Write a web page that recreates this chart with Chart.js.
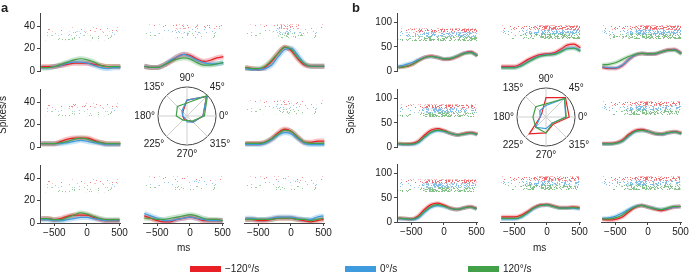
<!DOCTYPE html>
<html>
<head>
<meta charset="utf-8">
<script src="https://cdn.jsdelivr.net/npm/chart.js@4.4.1/dist/chart.umd.min.js"></script>
<style>
  body { margin: 0; background: #fff; }
  #fig { position: relative; width: 690px; height: 276px; overflow: hidden;
         font-family: 'Liberation Sans', Arial, sans-serif; color: #222; }
  #fig canvas { position: absolute; }
  .txt { position: absolute; font-size: 10px; white-space: nowrap; line-height: 1; }
  .panel { position: absolute; font-size: 13px; font-weight: bold; line-height: 1; }
  .ylab { position: absolute; font-size: 10px; transform: rotate(-90deg); transform-origin: center; white-space: nowrap; line-height: 1; }
  .sw { position: absolute; height: 6px; width: 31px; }
</style>
</head>
<body>
<div id="fig"></div>
<script>
// time axis (ms) and ticks
const TIMES = [-700, -600, -500, -400, -300, -200, -100, 0, 100, 200, 300, 400, 500];
const X_TICKS = [-500, 0, 500];
const Y_TICKS_A = [0, 20, 40];
const Y_TICKS_B = [0, 50, 100];
const SPEEDS = ['\u2212120°/s', '0°/s', '120°/s'];
const DIRS = [0, 45, 90, 135, 180, 225, 270, 315];

// panel a, spikes/s per direction: [-120, 0, 120 deg/s]
const a135 = [[4,4,4,5,6,7,7,7,6,5,4,4,4], [3,3,4,5,7,8,8,7,5,3,2,3,3], [3,3,4,6,8,10,11,10,8,5,4,4,4]];
const a90  = [[4,3,3,5,8,12,14,13,10,8,9,11,12], [4,3,3,5,9,12,14,12,9,7,6,6,7], [4,3,3,5,8,10,11,10,7,5,5,6,7]];
const a45  = [[3,2,1,3,8,15,20,17,10,5,4,4,4], [2,1,1,2,5,12,18,19,13,6,4,4,4], [3,2,2,4,9,15,20,18,11,6,4,4,4]];
const a180 = [[3,3,3,5,7,8,8,8,6,4,3,3,3], [3,3,3,3,4,5,6,5,4,3,2,2,2], [3,3,3,4,5,7,8,7,5,4,3,3,3]];
const a0   = [[3,3,3,4,7,12,15,13,8,4,4,5,5], [2,2,2,3,6,10,12,11,7,3,2,2,2], [3,3,3,4,7,11,14,13,8,4,3,3,3]];
const a225 = [[4,4,3,4,6,7,7,7,5,3,2,2,2], [3,3,2,2,3,4,5,5,4,3,2,2,2], [4,4,3,3,5,7,9,8,6,4,3,3,3]];
const a270 = [[6,4,2,1,1,3,4,5,4,2,2,2,2], [8,6,4,2,2,3,4,5,4,3,2,2,2], [4,4,3,3,4,5,6,7,6,4,3,3,2]];
const a315 = [[3,3,2,2,3,4,4,4,3,2,1,2,3], [4,4,3,3,4,5,5,5,4,3,3,5,6], [3,3,3,3,3,4,4,4,3,3,2,3,4]];

// panel b
const b135 = [[8,9,13,21,28,31,28,24,25,30,37,40,32], [9,13,17,23,28,30,28,25,26,31,37,39,32], [7,9,13,21,28,30,28,25,26,31,36,38,31]];
const b90  = [[9,9,9,14,22,28,32,33,35,42,50,52,45], [7,7,7,11,18,25,30,32,33,38,44,45,40], [6,6,6,10,17,24,29,31,32,37,43,44,38]];
const b45  = [[7,5,5,10,22,31,34,33,33,37,41,42,34], [8,6,6,11,22,31,34,33,33,37,40,41,34], [12,13,16,22,28,32,34,33,34,37,40,40,33]];
const b180 = [[7,6,7,12,25,35,38,34,28,25,28,30,27], [6,5,5,9,20,30,34,32,28,25,27,29,26], [7,6,6,10,21,31,35,33,28,25,27,29,26]];
const b0   = [[7,7,8,13,24,32,34,30,26,25,28,30,27], [6,6,7,11,21,30,32,30,26,24,27,29,26], [6,6,7,11,22,30,32,30,26,25,28,29,26]];
const b225 = [[8,7,6,12,26,36,39,35,29,26,29,32,28], [7,6,5,8,20,30,34,32,28,26,29,31,27], [8,7,6,10,22,32,36,33,28,26,29,31,27]];
const b270 = [[10,10,10,13,20,28,33,34,31,28,28,29,28], [6,6,6,9,17,26,32,33,30,27,27,27,25], [7,7,7,10,18,27,32,33,30,27,27,28,27]];
const b315 = [[5,4,5,9,19,28,32,29,25,22,25,29,30], [7,8,11,17,24,30,32,29,26,24,26,29,30], [6,6,8,13,22,29,32,29,26,24,27,30,30]];

// polar tuning (normalised), values at DIRS order 0,45,...,315
const polarA = [[0.55,0.95,0.55,0.2,0.15,0.15,0.15,0.3], [0.55,0.95,0.55,0.25,0.15,0.1,0.2,0.3], [0.6,1.0,0.45,0.47,0.37,0.2,0.15,0.25]];
const polarB = [[0.8,0.95,0.67,0.2,0.2,0.82,0.55,0.35], [0.68,0.9,0.4,0.3,0.2,0.5,0.4,0.3], [0.7,0.9,0.45,0.5,0.45,0.5,0.55,0.3]];

/*========== style / layout ==========*/
const COLORS = ['232,32,38', '62,155,222', '66,160,72'];
const FONT = "'Liberation Sans', Arial, sans-serif";
Chart.defaults.font.family = FONT;
Chart.defaults.font.size = 10;
Chart.defaults.color = '#222';

const PANEL_A = { ymax: 52, yticks: Y_TICKS_A, raster: [[35.5, 39], [31.5, 35.5], [27.5, 32]], rmax: 20, band: 5,
  dens: [0, 0.05, 0.1, 0.17, 0.26], alpha: 0.55,
  cols: [40, 143, 244], rows: [9, 85, 161], grid: [[a135, a90, a45], [a180, null, a0], [a225, a270, a315]] };
const PANEL_B = { ymax: 120, yticks: Y_TICKS_B, raster: [[80, 88], [71, 80], [62, 72]], rmax: 34, band: 4,
  dens: [0, 0.08, 0.2, 0.34, 0.48], alpha: 0.65,
  cols: [397, 500, 601], rows: [9, 85, 160], grid: [[b135, b90, b45], [b180, null, b0], [b225, b270, b315]] };

const PW = 81, PH = 62, YW = 34, XH = 20, PADT = 4, PADR = 8;
const fig = document.getElementById('fig');

// integer hash for the raster texture
function hash(x, y, s) {
  let h = Math.imul(x, 374761393) + Math.imul(y, 668265263) + Math.imul(s, 1442695041);
  h = Math.imul(h ^ (h >>> 13), 1274126177);
  h ^= h >>> 16;
  return (h >>> 0) / 4294967296;
}

// speckle textures for raster bands, one per density level
function speckle(rgb, prob, alpha, seed) {
  const c = document.createElement('canvas');
  c.width = 97; c.height = 29;
  const g = c.getContext('2d');
  g.fillStyle = 'rgba(' + rgb + ',' + alpha + ')';
  for (let y = 0; y < c.height; y++) {
    for (let x = 0; x < c.width; x++) {
      if (hash(x, y, seed) < prob) g.fillRect(x, y, 1, 1);
    }
  }
  return g.createPattern(c, 'repeat');
}
[PANEL_A, PANEL_B].forEach((p, j) => {
  p.patterns = COLORS.map((rgb, k) => p.dens.map((d, l) => speckle(rgb, d, p.alpha, 7 + k * 5 + l + j * 31)));
});

const minus = v => (v < 0 ? '\u2212' + Math.abs(v) : String(v));

function subplot(p, r, c) {
  const series = p.grid[r][c];
  const cv = document.createElement('canvas');
  cv.width = YW + PW + PADR;
  cv.height = PADT + PH + XH;
  cv.style.left = (p.cols[c] - YW) + 'px';
  cv.style.top = (p.rows[r] - PADT) + 'px';
  fig.appendChild(cv);
  const left = c === 0, bottom = r === 2;

  const datasets = [];
  series.forEach((vals, k) => {
    const [lo, hi] = p.raster[k];
    datasets.push({
      data: TIMES.map(t => ({ x: t, y: hi })),
      fill: { value: lo }, borderWidth: 0, pointRadius: 0, order: 30 + k,
      backgroundColor: p.patterns[k][2],
      segment: {
        backgroundColor: ctx => {
          const v = (vals[ctx.p0DataIndex] + vals[ctx.p1DataIndex]) / 2;
          return p.patterns[k][Math.max(1, Math.min(4, Math.round(v / p.rmax * 4)))];
        }
      }
    });
    const pts = TIMES.map((t, i) => ({ x: t, y: vals[i] }));
    datasets.push({ data: pts, borderColor: 'rgba(' + COLORS[k] + ',0.28)', borderWidth: p.band,
      pointRadius: 0, cubicInterpolationMode: 'monotone', fill: false, order: 20 + k });
    datasets.push({ data: pts, borderColor: 'rgb(' + COLORS[k] + ')', borderWidth: 1.2,
      pointRadius: 0, cubicInterpolationMode: 'monotone', fill: false, order: 3 - k });
  });

  new Chart(cv, {
    type: 'line',
    data: { datasets },
    options: {
      responsive: false, animation: false, devicePixelRatio: 1,
      layout: { padding: { top: PADT, right: PADR, left: 0, bottom: 0 } },
      plugins: { legend: { display: false }, tooltip: { enabled: false } },
      scales: {
        x: {
          type: 'linear', min: -720, max: 510,
          afterFit: s => { s.height = XH; },
          afterBuildTicks: s => { s.ticks = X_TICKS.map(v => ({ value: v })); },
          ticks: { display: bottom, autoSkip: false, maxRotation: 0, padding: 1, callback: v => minus(v) },
          grid: { display: bottom, drawOnChartArea: false, tickLength: 3, color: '#444' },
          border: { display: bottom, color: '#444' }
        },
        y: {
          min: 0, max: p.ymax,
          afterFit: s => { s.width = YW; },
          afterBuildTicks: s => { s.ticks = p.yticks.map(v => ({ value: v })); },
          ticks: { display: left, autoSkip: false, padding: 2 },
          grid: { display: left, drawOnChartArea: false, tickLength: 3, color: '#444' },
          border: { display: left, color: '#444' }
        }
      }
    }
  });
}

// radar order: start at 0 deg (right), clockwise
const R_ORDER = [0, 7, 6, 5, 4, 3, 2, 1];

function polar(cx, cy, vals) {
  const W = 112, H = 88;
  const cv = document.createElement('canvas');
  cv.width = W; cv.height = H;
  cv.style.left = (cx - W / 2) + 'px';
  cv.style.top = (cy - H / 2) + 'px';
  fig.appendChild(cv);
  new Chart(cv, {
    type: 'radar',
    data: {
      labels: R_ORDER.map(i => DIRS[i] + '°'),
      datasets: vals.map((v, k) => ({
        data: R_ORDER.map(i => v[i]),
        borderColor: 'rgb(' + COLORS[k] + ')', borderWidth: 1.2, fill: false, pointRadius: 0, order: 3 - k
      }))
    },
    options: {
      responsive: false, animation: false, devicePixelRatio: 1,
      layout: { padding: 0 },
      plugins: { legend: { display: false }, tooltip: { enabled: false } },
      elements: { line: { tension: 0 } },
      scales: {
        r: {
          min: 0, max: 1, startAngle: 90,
          ticks: { display: false, stepSize: 1 },
          grid: { circular: true, color: '#444' },
          angleLines: { color: '#cfcfcf' },
          pointLabels: { font: { size: 10 }, color: '#222', padding: 3 }
        }
      }
    }
  });
}

[PANEL_A, PANEL_B].forEach(p => {
  for (let r = 0; r < 3; r++) for (let c = 0; c < 3; c++) if (p.grid[r][c]) subplot(p, r, c);
});
polar(182, 116, polarA);
polar(541, 117, polarB);

// text labels
function text(cls, str, x, y) {
  const d = document.createElement('div');
  d.className = cls; d.textContent = str;
  d.style.left = x + 'px'; d.style.top = y + 'px';
  fig.appendChild(d);
  return d;
}
text('panel', 'a', 1, 1);
text('panel', 'b', 352, 1);
text('ylab', 'Spikes/s', -16, 110);
text('ylab', 'Spikes/s', 332, 110);
text('txt', 'ms', 177, 243);
text('txt', 'ms', 533, 243);

// legend
const LEG_X = [190, 345, 468];
SPEEDS.forEach((s, k) => {
  const sw = document.createElement('div');
  sw.className = 'sw';
  sw.style.left = LEG_X[k] + 'px'; sw.style.top = '266px';
  sw.style.background = 'rgb(' + COLORS[k] + ')';
  fig.appendChild(sw);
  text('txt', s, LEG_X[k] + 35, 264);
});
</script>
</body>
</html>
